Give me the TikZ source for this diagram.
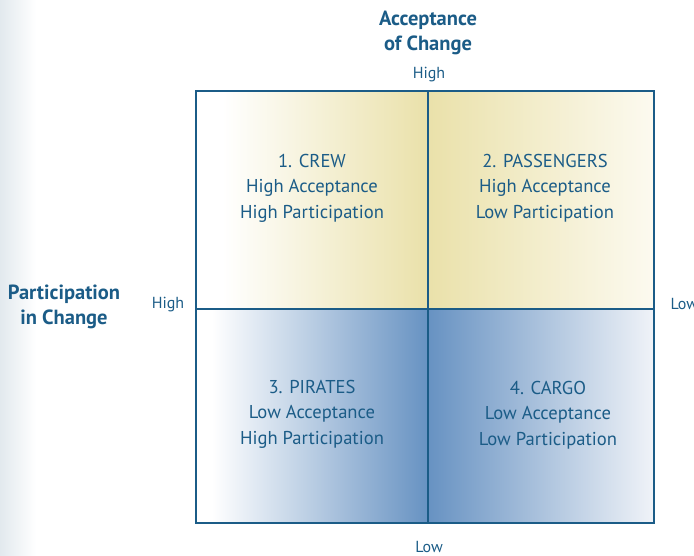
\documentclass[tikz,border=0pt]{standalone}
\usepackage{fontspec}
\setmainfont{PT Sans}

\definecolor{inkblue}{HTML}{1B5C87}
\definecolor{crewyellow}{HTML}{EAE1AA}
\definecolor{paleyellow}{HTML}{FCFAF0}
\definecolor{pirateblue}{HTML}{6792C2}
\definecolor{paleblue}{HTML}{F0F3F8}
\definecolor{stripblue}{HTML}{E2E9EE}

\tikzset{
  gridline/.style={draw=inkblue, line width=2.8pt},
  quadtext/.style={text=inkblue, align=center, font=\fontsize{18.6}{25.5}\selectfont},
  axistitle/.style={text=inkblue, align=center, font=\fontsize{20.5}{25}\selectfont\bfseries},
  axislevel/.style={text=inkblue, font=\fontsize{16}{18}\selectfont}
}

\begin{document}
\begin{tikzpicture}[x=1pt,y=-1pt]
        \useasboundingbox (0,0) rectangle (694,556);

        % pale strip on the left edge
        \shade[left color=stripblue, right color=white] (0,0) rectangle (36,556);

        % the four quadrants
        \shade[left color=white, right color=crewyellow] (222,91) rectangle (428,309);
        \shade[left color=crewyellow, right color=paleyellow] (428,91) rectangle (654,309);
        \shade[left color=white, right color=pirateblue] (212,309) rectangle (428,523);
        \shade[left color=pirateblue, right color=paleblue] (428,309) rectangle (654,523);

        \draw[gridline] (196,91) rectangle (654,523);
        \draw[gridline] (428,91) -- (428,523);
        \draw[gridline] (196,309) -- (654,309);

        \begin{scope}[every node/.style={quadtext}]
          \node (crew)       at (312,188) {1. CREW\\High Acceptance\\High Participation};
          \node (passengers) at (545,188) {2. PASSENGERS\\High Acceptance\\Low Participation};
          \node (pirates)    at (312,414) {3. PIRATES\\Low Acceptance\\High Participation};
          \node (cargo)      at (548,415) {4. CARGO\\Low Acceptance\\Low Participation};
        \end{scope}

        \node[axistitle] (acceptance)    at (428,33)  {Acceptance\\of Change};
        \node[axistitle] (participation) at (64,307)  {Participation\\in Change};

        \begin{scope}[every node/.style={axislevel}]
          \node (acchigh) at (429,75)  {High};
          \node (acclow)  at (429,547) {Low};
          \node (parhigh) at (168,305) {High};
          \node[anchor=west] (parlow) at (667,304) {Low};
        \end{scope}

      \end{tikzpicture}
\end{document}
